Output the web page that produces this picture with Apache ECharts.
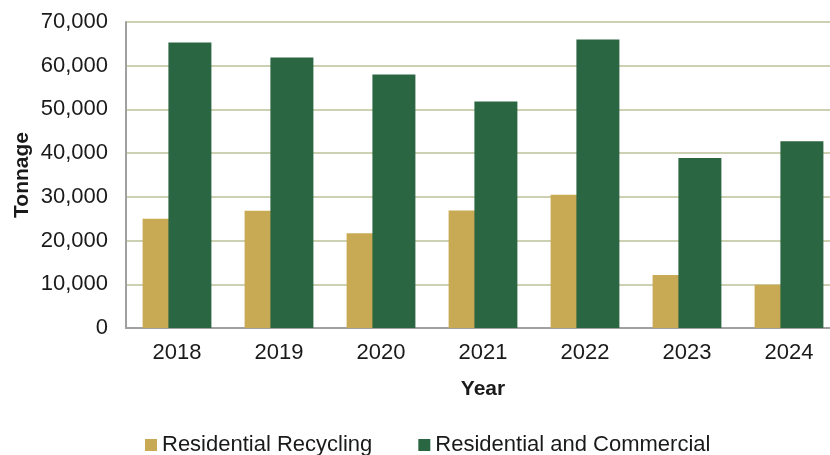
<!DOCTYPE html>
<html>
<head>
<meta charset="utf-8">
<script src="https://cdn.jsdelivr.net/npm/echarts@6/dist/echarts.min.js"></script>
<style>
  html, body { margin: 0; padding: 0; background: #fff; }
  #chart { width: 830px; height: 455px; }
</style>
</head>
<body>
<div id="chart"></div>
<script>
const years = ["2018", "2019", "2020", "2021", "2022", "2023", "2024"];
const recycling = [25000, 26800, 21700, 26900, 30500, 12100, 9900];
const resCommercial = [65300, 61900, 58000, 51800, 66000, 38900, 42700];

const font = "Liberation Sans, Arial, sans-serif";

const chart = echarts.init(document.getElementById("chart"));
chart.setOption({
  animation: false,
  textStyle: { fontFamily: font },
  grid: {
    left: 126, right: -10, top: 22, bottom: 127,
    containLabel: false, outerBoundsMode: "none",
  },
  legend: {
    left: 140,
    top: 429,
    itemWidth: 12,
    itemHeight: 12,
    itemGap: 46,
    icon: "rect",
    textStyle: { fontSize: 22, color: "#1a1a1a", fontFamily: font },
    data: ["Residential Recycling", "Residential and Commercial"],
  },
  xAxis: {
    type: "category",
    data: years,
    name: "Year",
    nameLocation: "middle",
    nameGap: 51,
    nameMoveOverlap: false,
    nameTextStyle: { fontSize: 21, fontWeight: "bold", color: "#1a1a1a" },
    axisLine: { lineStyle: { color: "#a0a0a0", width: 2 } },
    axisTick: { show: false },
    axisLabel: { fontSize: 22, color: "#1a1a1a", margin: 14 },
  },
  yAxis: {
    type: "value",
    min: 0,
    max: 70000,
    interval: 10000,
    name: "Tonnage",
    nameLocation: "middle",
    nameGap: 93,
    nameMoveOverlap: false,
    nameRotate: 90,
    nameTextStyle: { fontSize: 21, fontWeight: "bold", color: "#1a1a1a" },
    axisLine: { show: true, lineStyle: { color: "#a0a0a0", width: 2 } },
    axisTick: { show: false },
    axisLabel: {
      fontSize: 22,
      color: "#1a1a1a",
      margin: 18,
      formatter: (v) => v.toLocaleString("en-US"),
    },
    splitLine: { lineStyle: { color: "#cdd1b1", width: 2 } },
  },
  series: [
    {
      name: "Residential Recycling",
      type: "bar",
      data: recycling,
      barWidth: 43,
      barGap: "-40%",
      itemStyle: { color: "#c9aa54" },
    },
    {
      name: "Residential and Commercial",
      type: "bar",
      data: resCommercial,
      barWidth: 43,
      barGap: "-40%",
      itemStyle: { color: "#2a6642" },
    },
  ],
});
</script>
</body>
</html>
